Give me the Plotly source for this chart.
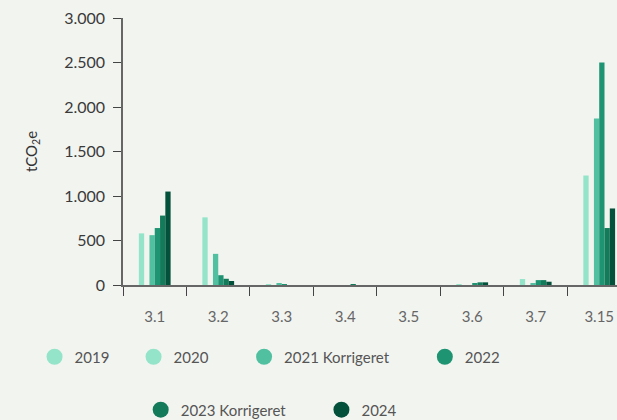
import plotly.graph_objects as go

categories = ["3.1", "3.2", "3.3", "3.4", "3.5", "3.6", "3.7", "3.15"]
series_names = ["2019", "2020", "2021 Korrigeret", "2022", "2023 Korrigeret", "2024"]
v2019 = [580, 760, 10, 0, 0, 10, 67, 1230]
v2020 = [0, 0, 0, 0, 0, 0, 0, 0]
v2021 = [560, 350, 12, 0, 0, 0, 15, 1870]
v2022 = [640, 110, 10, 0, 0, 15, 55, 2500]
v2023 = [780, 70, 0, 5, 0, 30, 55, 640]
v2024 = [1050, 45, 0, 0, 0, 30, 37, 860]
values = [v2019, v2020, v2021, v2022, v2023, v2024]
colors = ["#93e4c9", "#93e4c9", "#50c0a0", "#1f9472", "#137a5a", "#04513b"]
y_ticks = [0, 500, 1000, 1500, 2000, 2500, 3000]

FONT = "Lato"
NB = "\u00a0"
pad = [5, 8, 8, 6, 8, 6]

fig = go.Figure()
for name, vals, col in zip(series_names, values, colors):
    fig.add_trace(go.Bar(x=categories, y=vals, name=name, marker_color=col,
                         marker_line_width=0, showlegend=False))

for i, (name, col) in enumerate(zip(series_names, colors)):
    fig.add_trace(go.Scatter(x=[None], y=[None], mode="markers", name=name + NB * pad[i],
                             marker=dict(symbol="circle", size=18, color=col),
                             legend="legend" if i < 4 else "legend2"))

fig.update_layout(
    width=617, height=420,
    margin=dict(l=123, r=0, t=18, b=135, autoexpand=False),
    paper_bgcolor="#f2f4f0", plot_bgcolor="#f2f4f0",
    barmode="group", bargap=0.5, bargroupgap=0,
    separators=",.",
    font=dict(family=FONT, size=15, color="#444444"),
    xaxis=dict(range=[-0.5, 7.28], tickson="boundaries", ticks="outside", ticklen=9,
               tickcolor="#444444", showline=True, linecolor="#666666", linewidth=1.5,
               showgrid=False, zeroline=False, fixedrange=True, automargin=False,
               ticklabelstandoff=17,
               tickfont=dict(size=15, color="#666666")),
    yaxis=dict(range=[0, 3000], tickvals=y_ticks, tickformat=",d", ticks="outside",
               ticklen=8, tickcolor="#444444", showline=True, linecolor="#666666",
               linewidth=1.5, showgrid=False, zeroline=False, automargin=False,
               ticklabelstandoff=5,
               tickfont=dict(size=16, color="#3a3a3a"),
               title=dict(text="tCO<sub>2</sub>e", font=dict(size=15, color="#333333"),
                          standoff=23)),
    legend=dict(orientation="h", xref="container", yref="container",
                x=0.056, xanchor="left", y=0.15, yanchor="middle",
                bgcolor="rgba(0,0,0,0)", font=dict(size=15, color="#555555")),
    legend2=dict(orientation="h", xref="container", yref="container",
                 x=0.228, xanchor="left", y=0.024, yanchor="middle",
                 bgcolor="rgba(0,0,0,0)", font=dict(size=15, color="#555555")),
)

fig.write_html("out.html", config={"displayModeBar": False},
               post_script="document.body.style.margin='0';document.body.style.background='#f2f4f0';")
